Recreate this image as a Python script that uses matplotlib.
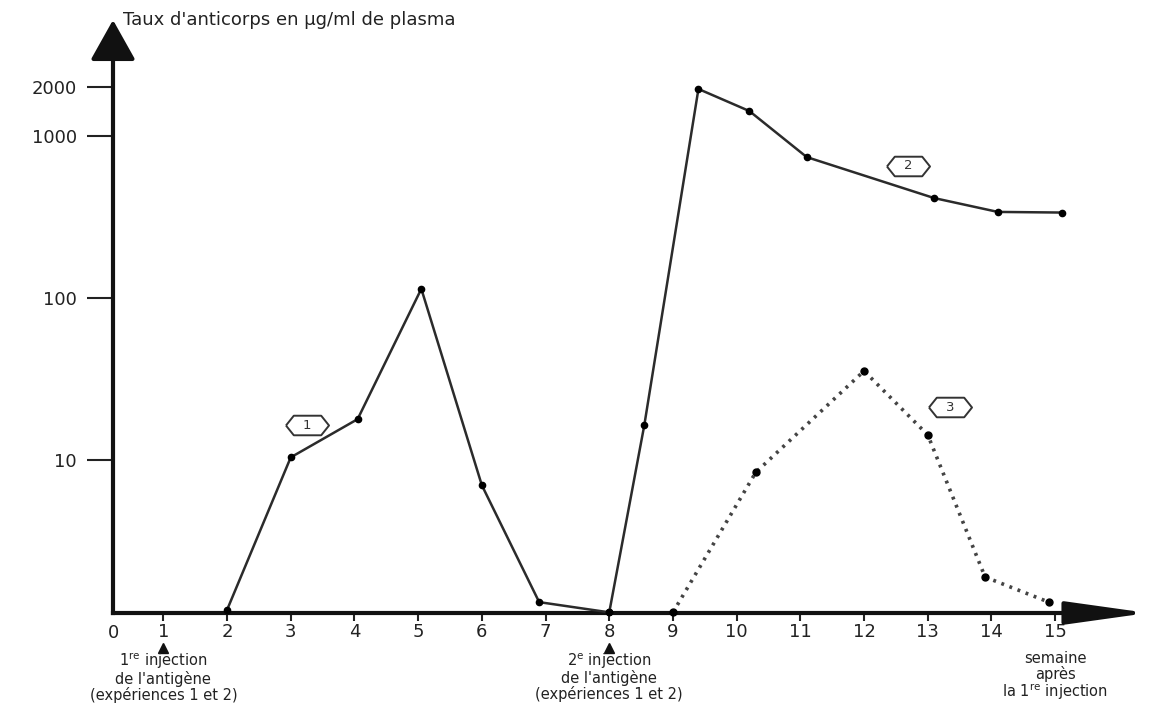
import matplotlib
matplotlib.use("Agg")
import matplotlib.pyplot as plt
from matplotlib.path import Path

# courbe 1 : 1re injection (semaines, ug/ml)
weeks_1 = [2, 3, 4.05, 5.05, 6, 6.9, 8]
taux_1 = [1.19, 10.4, 17.9, 114, 7.0, 1.33, 1.15]

# courbe 2 : apres la 2e injection (meme antigene)
weeks_2 = [8, 8.55, 9.4, 10.2, 11.1, 13.1, 14.1, 15.1]
taux_2 = [1.15, 16.4, 1950, 1425, 741, 414, 340, 337]

# courbe 3 : en pointilles
weeks_3 = [9, 10.3, 12, 13, 13.9, 14.9]
taux_3 = [1.15, 8.4, 35.5, 14.3, 1.9, 1.33]

ytick_vals = [10, 100, 1000, 2000]
ytick_labels = ["10", "100", "1000", "2000"]
xtick_vals = list(range(1, 16))

# numeros des courbes (x, y, texte)
curve_labels = [(3.26, 16.4, "1"), (12.69, 653, "2"), (13.35, 21.2, "3")]

injections = [
    (1, "1$^{\\mathrm{re}}$ injection\nde l'antigène\n(expériences 1 et 2)"),
    (8, "2$^{\\mathrm{e}}$ injection\nde l'antigène\n(expériences 1 et 2)"),
]

fig = plt.figure(figsize=(11.71, 7.04), dpi=100)
ax = fig.add_axes([0.0965, 0.1293, 0.8258, 0.7969])

ax.set_yscale("log")
xmin, xmax = 0.21, 15.39
ax.set_xlim(xmin, xmax)
ax.set_ylim(1.14, 3300)

ink = "#2b2b2b"
ax.plot(weeks_1, taux_1, color=ink, lw=1.8, marker="o", ms=4.5, mfc="black", mec="black", clip_on=False, zorder=3)
ax.plot(weeks_2, taux_2, color=ink, lw=1.8, marker="o", ms=4.5, mfc="black", mec="black", clip_on=False, zorder=3)
ax.plot(weeks_3, taux_3, color="#444444", lw=2.6, linestyle=(0, (0.8, 1.6)), marker="o", ms=5,
        mfc="black", mec="black", clip_on=False, zorder=3)

# etiquettes hexagonales
hexa = Path([(-2.2, 0), (-1.4, 1), (1.4, 1), (2.2, 0), (1.4, -1), (-1.4, -1), (-2.2, 0)])
for x, y, t in curve_labels:
    ax.plot([x], [y], marker=hexa, ms=31, mfc="white", mec="#333333", mew=1.4, zorder=4)
    ax.text(x, y, t, ha="center", va="center", fontsize=9.5, color="#333333", zorder=5)

# axes
for s in ["top", "right"]:
    ax.spines[s].set_visible(False)
for s in ["left", "bottom"]:
    ax.spines[s].set_linewidth(3)
    ax.spines[s].set_color("#111111")

ax.set_yticks(ytick_vals)
ax.set_yticklabels(ytick_labels)
ax.yaxis.set_minor_locator(matplotlib.ticker.NullLocator())
ax.tick_params(axis="y", direction="out", length=19, width=1.5, pad=7, labelsize=13, colors="#222222")

ax.set_xticks(xtick_vals)
ax.set_xticklabels([str(v) for v in xtick_vals])
ax.tick_params(axis="x", direction="out", length=6, width=1.5, pad=1, labelsize=13, colors="#222222")

# fleches des axes
ax.annotate("", xy=(1.0703, 0), xytext=(0.99, 0), xycoords="axes fraction",
            arrowprops=dict(arrowstyle="-|>,head_length=5.0,head_width=0.7", lw=3,
                            color="#111111", shrinkA=0, shrinkB=0), annotation_clip=False)
ax.annotate("", xy=(0, 1.057), xytext=(0, 0.99), xycoords="axes fraction",
            arrowprops=dict(arrowstyle="-|>,head_length=2.5,head_width=1.4", lw=3,
                            color="#111111", shrinkA=0, shrinkB=0), annotation_clip=False)

ax.text(0.0103, 1.057, "Taux d'anticorps en µg/ml de plasma", transform=ax.transAxes,
        ha="left", va="center", fontsize=13, color="#222222")

xt = ax.get_xaxis_transform()
ax.text(xmin, -0.036, "0", transform=xt, ha="center", va="center", fontsize=13, color="#222222")

for x, txt in injections:
    ax.plot([x], [-0.0624], marker="^", ms=7, color="#111111", transform=xt, clip_on=False)
    ax.text(x, -0.068, txt, transform=xt, ha="center", va="top", fontsize=10.5,
            linespacing=0.98, color="#222222")

ax.text(15, -0.068, "semaine\naprès\nla 1$^{\\mathrm{re}}$ injection", transform=xt,
        ha="center", va="top", fontsize=10.5, linespacing=0.98, color="#222222")

fig.savefig("out.png", dpi=100)
